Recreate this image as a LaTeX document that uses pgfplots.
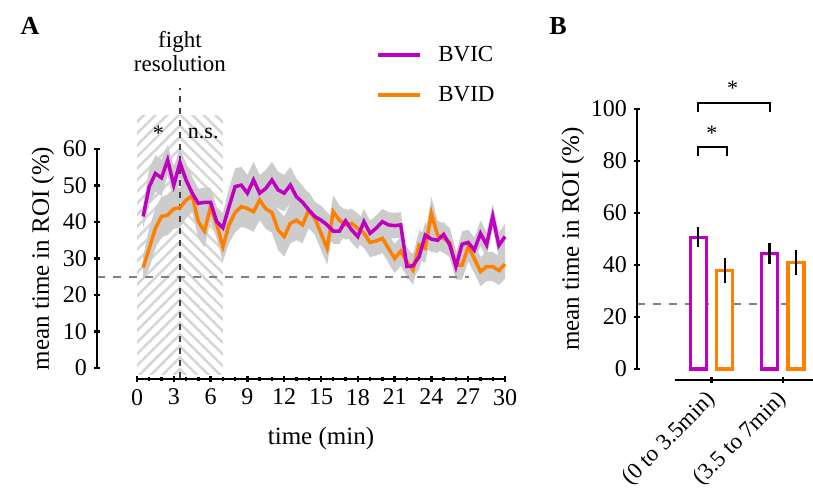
\documentclass[border=0pt]{standalone}
\usepackage{fontspec}
\setmainfont{Liberation Serif}
\usepackage{pgfplots}
\usepackage{pgfplotstable}
\pgfplotsset{compat=1.18}
\usetikzlibrary{patterns.meta}

\definecolor{bvic}{RGB}{192,0,192}
\definecolor{bvid}{RGB}{255,128,0}
\definecolor{band}{RGB}{204,204,204}
\definecolor{hatch}{RGB}{214,214,214}
\definecolor{refline}{RGB}{128,128,128}

% time course: mean and SEM for BVIC (c) and BVID (d)
\pgfplotstableread{
t    c     cs   d     ds
0.5  41.5  3.0  27.5  3.0
1.0  49.7  5.0  32.8  5.5
1.5  53.3  5.0  38.3  5.5
2.0  52.1  5.0  41.5  5.5
2.5  57.0  4.0  41.9  5.5
3.0  50.1  5.0  43.6  5.5
3.5  56.3  4.0  43.9  5.5
4.0  51.5  4.5  46.0  5.0
4.5  47.9  4.5  47.2  4.5
5.0  45.1  4.0  40.1  4.5
5.5  45.4  4.0  37.5  4.5
6.0  45.4  4.0  44.2  4.0
6.5  40.1  4.0  39.4  4.0
7.0  38.4  4.0  33.2  4.0
7.5  44.2  5.0  39.2  5.0
8.0  49.7  5.0  42.6  5.5
8.5  50.1  5.0  44.2  5.5
9.0  47.9  5.0  43.7  5.5
9.5  51.5  5.0  42.8  5.5
10.0 47.9  5.0  46.0  5.5
10.5 49.2  5.0  43.6  5.5
11.0 51.5  5.0  42.6  5.5
11.5 48.8  5.0  37.8  5.5
12.0 47.9  5.0  36.0  5.5
12.5 50.1  5.0  39.6  5.5
13.0 46.9  5.0  40.5  5.5
13.5 45.4  4.5  39.2  5.0
14.0 43.3  4.5  43.3  5.0
14.5 41.5  4.0  41.0  4.5
15.0 40.5  4.0  36.9  4.5
15.5 39.2  3.5  32.8  4.5
16.0 37.5  3.5  42.8  4.5
16.5 37.5  3.5  40.5  4.0
17.0 40.3  3.5  39.2  4.0
17.5 37.8  3.5  39.6  4.0
18.0 36.0  3.5  38.3  4.0
18.5 40.1  3.5  36.9  4.0
19.0 36.9  3.5  34.4  4.0
19.5 38.3  3.5  34.8  4.0
20.0 40.1  3.5  35.5  4.0
20.5 39.2  3.5  32.8  4.0
21.0 39.0  3.5  30.0  4.0
21.5 39.2  3.5  32.0  4.0
22.0 27.8  3.5  29.1  4.0
22.5 28.0  3.5  26.8  4.0
23.0 30.5  3.5  33.7  4.0
23.5 36.4  3.5  32.8  4.0
24.0 35.3  3.5  42.4  4.5
24.5 35.0  3.5  36.4  4.0
25.0 36.6  3.5  35.5  4.0
25.5 33.7  3.5  34.4  4.0
26.0 27.8  3.5  28.2  4.0
26.5 33.9  3.5  28.2  4.0
27.0 34.4  3.5  33.2  4.0
27.5 32.3  3.5  30.0  4.0
28.0 36.9  3.5  26.4  4.0
28.5 33.7  3.5  27.8  4.0
29.0 41.5  3.5  27.8  4.0
29.5 33.6  3.5  26.7  4.0
30.0 36.0  3.5  28.5  4.0
}\timecourse

\pgfplotsset{
  prism/.style={
    scale only axis,
    axis line style={line width=1.2pt},
    every non boxed x axis/.append style={x axis line style=-},
    every non boxed y axis/.append style={y axis line style=-},
    tick style={black, line width=1.2pt},
    tick align=outside,
    major tick length=3pt, minor tick length=1.8pt,
    ticklabel style={font=\fontsize{12}{14}\selectfont},
    label style={font=\fontsize{12.5}{14}\selectfont},
    /pgf/number format/assume math mode=true,
  },
  panelA/.style={prism, at={(68.5pt,61.5pt)}, anchor=south west,
    width=184pt, height=109.5pt, xmin=0, xmax=30, ymin=0, ymax=60,
    hide axis, clip=false},
}

\begin{document}
\begin{tikzpicture}
\useasboundingbox (0,0) rectangle (406.5pt,245.5pt);

\node[font=\fontsize{13}{15}\selectfont\bfseries] at (15pt,232.5pt) {A};
\node[font=\fontsize{13}{15}\selectfont\bfseries] at (279pt,232.5pt) {B};

% ---------------- panel A ----------------
% hatched fight period
\begin{axis}[panelA]
\addplot[draw=none, pattern={Lines[angle=45,distance=4.1pt,line width=1.3pt]}, pattern color=hatch]
  coordinates {(0,-1.9) (0,69.3) (3.5,69.3) (3.5,-1.9) (0,-1.9)};
\addplot[draw=none, pattern={Lines[angle=-45,distance=4.1pt,line width=1.3pt]}, pattern color=hatch]
  coordinates {(3.5,-1.9) (3.5,69.3) (7,69.3) (7,-1.9) (3.5,-1.9)};
\end{axis}

% SEM bands
\begin{axis}[panelA, stack plots=y]
\addplot[draw=none] table[x=t, y expr=\thisrow{c}-\thisrow{cs}] {\timecourse};
\addplot[draw=none, fill=band] table[x=t, y expr=2*\thisrow{cs}] {\timecourse} \closedcycle;
\end{axis}
\begin{axis}[panelA, stack plots=y]
\addplot[draw=none] table[x=t, y expr=\thisrow{d}-\thisrow{ds}] {\timecourse};
\addplot[draw=none, fill=band] table[x=t, y expr=2*\thisrow{ds}] {\timecourse} \closedcycle;
\end{axis}

% means, reference lines, legend
\begin{axis}[panelA,
  legend style={draw=none, fill=none, font=\fontsize{11.5}{13}\selectfont,
    at={(0.633,1.508)}, anchor=north west, row sep=7pt,
    cells={anchor=west}},
  legend image code/.code={\draw[#1, line width=2pt] (0pt,0pt) -- (21pt,0pt);},
]
\addplot[refline, line width=0.8pt, dash pattern=on 4pt off 4pt, forget plot]
  coordinates {(-3.26,25) (27.1,25)};
\addplot[black!75, line width=0.8pt, dash pattern=on 3pt off 3pt, forget plot]
  coordinates {(3.5,-2.7) (3.5,76.7)};
\addplot[bvid, line width=1.75pt, forget plot] table[x=t, y=d] {\timecourse};
\addplot[bvic, line width=1.75pt] table[x=t, y=c] {\timecourse};
\addlegendentry{\hspace{6pt}BVIC}
\addlegendimage{bvid}
\addlegendentry{\hspace{6pt}BVID}
\node[font=\fontsize{11}{13}\selectfont] at (axis cs:1.74,64.3) {*};
\node[font=\fontsize{11}{13}\selectfont] at (axis cs:5.4,64.3) {n.s.};
\node[font=\fontsize{11.5}{12}\selectfont, align=center] at (axis cs:3.5,86.6) {fight\\resolution};
\end{axis}

% y axis A
\begin{axis}[prism, at={(48.5pt,61.5pt)}, anchor=south west,
  width=1pt, height=109.5pt, xmin=0, xmax=1, ymin=0, ymax=60,
  axis y line=left, axis x line=none, ytick={0,10,...,60},
  ylabel={mean time in ROI (\%)}, ylabel shift=-2.5pt]
\addplot[draw=none] coordinates {(0,0) (1,60)};
\end{axis}

% x axis A
\begin{axis}[prism, at={(68.5pt,56pt)}, anchor=south west,
  width=184pt, height=1pt, xmin=0, xmax=30, ymin=0, ymax=1,
  axis x line=bottom, axis y line=none, xtick={0,3,...,30},
  minor xtick={0,1,...,30}, xlabel={time (min)}, xlabel shift=4pt]
\addplot[draw=none] coordinates {(0,0) (30,1)};
\end{axis}

% ---------------- panel B ----------------
\begin{axis}[prism, at={(337.5pt,61pt)}, anchor=south west,
  width=69pt, height=130pt, xmin=0.488, xmax=2.4245, ymin=0, ymax=100,
  hide axis, clip=false]
\addplot[refline, line width=0.8pt, dash pattern=on 4pt off 4pt]
  coordinates {(-0.0456,25) (2.4245,25)};
\addplot[ybar, bar width=8pt, bar shift=0pt, draw=bvic, fill=white, line width=1.6pt,
  error bars/.cd, y dir=both, y explicit, error mark=none,
  error bar style={black, line width=1.2pt}]
  coordinates {(0.8147,50.7) +- (0,3.9) (1.8147,44.5) +- (0,4.1)};
\addplot[ybar, bar width=8pt, bar shift=0pt, draw=bvid, fill=white, line width=1.6pt,
  error bars/.cd, y dir=both, y explicit, error mark=none,
  error bar style={black, line width=1.2pt}]
  coordinates {(1.1853,37.9) +- (0,4.7) (2.1853,41.0) +- (0,4.8)};
\draw[line width=1.1pt] (axis cs:0.811,82) -- (axis cs:0.811,85.4) -- (axis cs:1.2175,85.4) -- (axis cs:1.2175,82);
\draw[line width=1.1pt] (axis cs:0.811,99) -- (axis cs:0.811,102.3) -- (axis cs:1.821,102.3) -- (axis cs:1.821,99);
\node[font=\fontsize{11}{13}\selectfont] at (axis cs:1.007,90.5) {*};
\node[font=\fontsize{11}{13}\selectfont] at (axis cs:1.297,107.8) {*};
\end{axis}

% y axis B
\begin{axis}[prism, at={(318.5pt,61pt)}, anchor=south west,
  width=1pt, height=130pt, xmin=0, xmax=1, ymin=0, ymax=100,
  axis y line=left, axis x line=none, ytick={0,20,...,100},
  ylabel={mean time in ROI (\%)}, ylabel shift=-3.5pt]
\addplot[draw=none] coordinates {(0,0) (1,100)};
\end{axis}

% x axis B
\begin{axis}[prism, at={(337.5pt,55.5pt)}, anchor=south west,
  width=69pt, height=1pt, xmin=0.488, xmax=2.4245, ymin=0, ymax=1,
  axis x line=bottom, axis y line=none, xtick={1,2},
  xticklabels={(0 to 3.5min),(3.5 to 7min)},
  xticklabel style={rotate=45, anchor=east, xshift=-1pt, yshift=-5pt,
    font=\fontsize{11.5}{13}\selectfont}]
\addplot[draw=none] coordinates {(0.5,0) (2.4,1)};
\end{axis}
\end{tikzpicture}
\end{document}
